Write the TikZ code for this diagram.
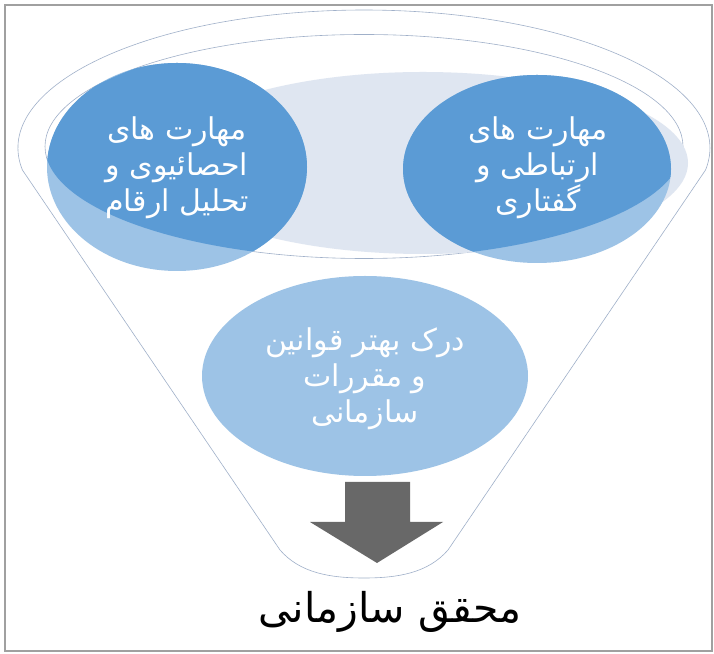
\documentclass[tikz,border=0pt]{standalone}
\usepackage{fontspec}
\newfontfamily\arabicfont[Script=Arabic]{DejaVu Sans}
\TeXXeTstate=1
\definecolor{rimline}{RGB}{160,176,201}
\definecolor{darkblue}{RGB}{91,155,213}
\definecolor{lightblue}{RGB}{157,195,230}
\definecolor{mist}{RGB}{223,230,241}
\definecolor{arrowgray}{RGB}{104,104,104}
\definecolor{framegray}{RGB}{160,160,160}
\begin{document}
\begin{tikzpicture}[x=1pt,y=1pt,
  rim/.style={draw=rimline, line width=0.6pt},
  bubbletext/.style={text=white, font=\arabicfont\fontsize{30}{36}\selectfont, align=center, inner sep=0pt},
  resulttext/.style={text=black, font=\arabicfont\fontsize{41}{46}\selectfont, inner sep=0pt}]
\useasboundingbox (0,0) rectangle (714,653);
\fill[white] (0,0) rectangle (714,653);
\draw[framegray, line width=1.2pt] (5,2) rectangle (712,648);

% funnel body: upper rim arc, sloping sides, rounded base
\path[rim, fill=white] (22.4,483)
  arc[start angle=189.17, end angle=-9.17, x radius=346, y radius=138]
  -- (448,103) .. controls (428,80) and (398,75) .. (364,75)
  .. controls (330,75) and (300,80) .. (280,103) -- cycle;

% inner rim of the opening
\draw[rim] (364,506.5) ellipse[x radius=319, y radius=112];

% inner surface seen through the opening
\fill[mist] (423,490) ellipse[x radius=265, y radius=91];

% the two upper bubbles, lighter where the funnel wall covers them
\fill[lightblue] (177,486) ellipse[x radius=130, y radius=104];
\fill[lightblue] (537,484) ellipse[x radius=134, y radius=94];
\begin{scope}
  \clip (364,506.5) ellipse[x radius=319, y radius=112];
  \fill[darkblue] (177,486) ellipse[x radius=130, y radius=104];
  \fill[darkblue] (537,484) ellipse[x radius=134, y radius=94];
\end{scope}

% lower bubble
\fill[lightblue] (365,277) ellipse[x radius=163, y radius=100];

% outlet arrow
\fill[arrowgray] (345,171) -- (410,171) -- (410,131) -- (443,131)
  -- (377,90) -- (310,131) -- (345,131) -- cycle;

% labels
\node[bubbletext] (stats) at (177,485)
  {\beginR مهارت های\endR\\ \beginR احصائیوی و\endR\\ \beginR تحلیل ارقام\endR};
\node[bubbletext] (comm) at (538,485)
  {\beginR مهارت های\endR\\ \beginR ارتباطی و\endR\\ \beginR گفتاری\endR};
\node[bubbletext] (rules) at (365,274)
  {\beginR درک بهتر قوانین\endR\\ \beginR و مقررات\endR\\ \beginR سازمانی\endR};
\node[resulttext] (result) at (390,41) {\beginR محقق سازمانی\endR};
\end{tikzpicture}
\end{document}
